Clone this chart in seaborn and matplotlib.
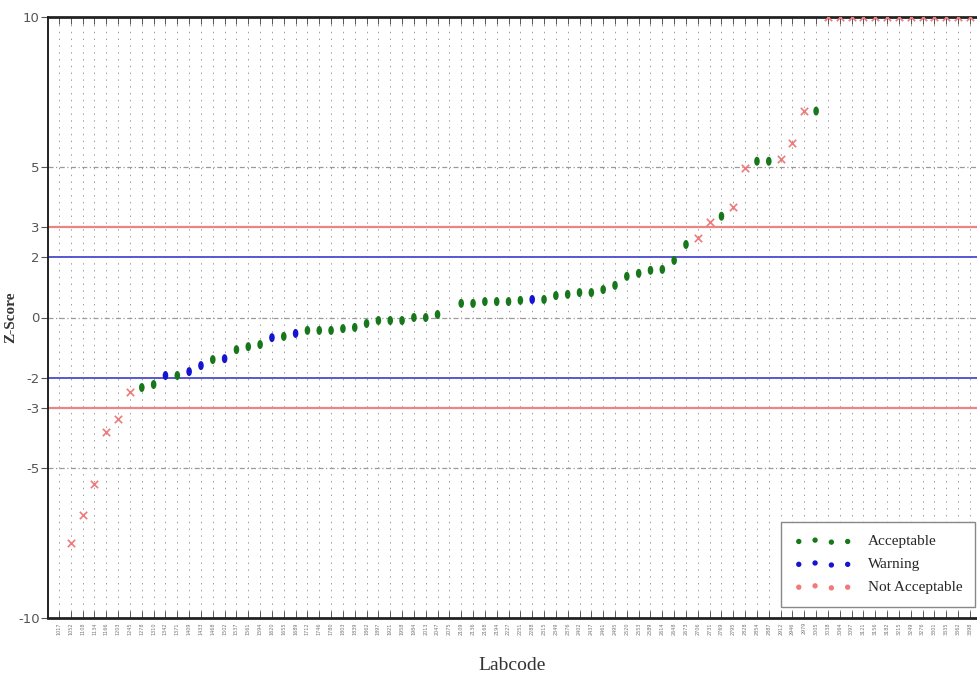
import numpy as np
import pandas as pd
import matplotlib
matplotlib.use("Agg")
import matplotlib.pyplot as plt
from matplotlib.path import Path
import seaborn as sns

# Lab codes along the x axis (sorted by z-score in the original chart)
labcodes = [
    "1017", "1052", "1108", "1134", "1166", "1203", "1245", "1278", "1310", "1342",
    "1371", "1409", "1433", "1468", "1502", "1537", "1561", "1594", "1620", "1655",
    "1689", "1712", "1746", "1780", "1803", "1839", "1862", "1897", "1921", "1958",
    "1984", "2013", "2047", "2075", "2109", "2136", "2168", "2194", "2227", "2251",
    "2288", "2315", "2349", "2376", "2402", "2437", "2461", "2495", "2520", "2553",
    "2589", "2614", "2648", "2673", "2706", "2731", "2769", "2795", "2828", "2854",
    "2887", "2912", "2946", "2979", "3005", "3038", "3064", "3097", "3121", "3156",
    "3182", "3215", "3249", "3276", "3301", "3335", "3362", "3398",
]

# z-scores (NaN = no result, 10 = off scale at the top limit)
zscores = [
    np.nan, -7.5, -6.57, -5.53, -3.8, -3.37, -2.47, -2.33, -2.23, -1.93,
    -1.93, -1.8, -1.6, -1.4, -1.37, -1.07, -0.97, -0.9, -0.67, -0.63,
    -0.53, -0.43, -0.43, -0.43, -0.37, -0.33, -0.2, -0.1, -0.1, -0.1,
    0.0, 0.0, 0.1, np.nan, 0.47, 0.47, 0.53, 0.53, 0.53, 0.57,
    0.6, 0.6, 0.73, 0.77, 0.83, 0.83, 0.93, 1.07, 1.37, 1.47,
    1.57, 1.6, 1.9, 2.43, 2.63, 3.17, 3.37, 3.67, 4.97, 5.2,
    5.2, 5.27, 5.8, 6.87, 6.87, 10, 10, 10, 10, 10,
    10, 10, 10, 10, 10, 10, 10, 10,
]

A, W, N = "Acceptable", "Warning", "Not Acceptable"
status = [
    None, N, N, N, N, N, N, A, A, W,
    A, W, W, A, W, A, A, A, W, A,
    W, A, A, A, A, A, A, A, A, A,
    A, A, A, None, A, A, A, A, A, A,
    W, A, A, A, A, A, A, A, A, A,
    A, A, A, A, N, N, A, N, N, A,
    A, N, N, N, A, N, N, N, N, N,
    N, N, N, N, N, N, N, N,
]

df = pd.DataFrame({"Labcode": labcodes, "Z": zscores, "Status": status})
df["pos"] = np.arange(len(df))
df = df.dropna(subset=["Z"])

sns.set_theme(style="white")
serif = ["Liberation Serif", "DejaVu Serif"]

fig = plt.figure(figsize=(9.77, 6.77), dpi=100)
ax = fig.add_axes([48 / 977, 59 / 677, 929 / 977, 601 / 677])

# vertical dotted grid at every lab
for i in range(len(labcodes)):
    ax.axvline(i, color="#9c9c9c", lw=0.7, ls=(0, (1.5, 5.5)), zorder=0)

# reference lines
for y in (0, 5, -5):
    ax.axhline(y, color="#9a9a9a", lw=0.9, ls=(0, (4, 2, 1, 2)), zorder=1)
for y in (3, -3):
    ax.axhline(y, color="#e98585", lw=1.6, zorder=1)
for y in (2, -2):
    ax.axhline(y, color="#4a4ad0", lw=1.3, zorder=1)

ellipse = Path(Path.unit_circle().vertices * [0.62, 1.0], Path.unit_circle().codes)
palette = {A: "#16781a", W: "#1414d2", N: "#f07a7a"}

ok = df[df["Status"] != N]
bad = df[df["Status"] == N]
sns.scatterplot(data=ok, x="pos", y="Z", hue="Status", hue_order=[A, W],
                palette=palette, marker=ellipse, s=42, linewidth=0,
                ax=ax, zorder=3, legend=False)
sns.scatterplot(data=bad, x="pos", y="Z", color=palette[N], marker="x",
                s=28, linewidth=1.2, ax=ax, zorder=3, legend=False)

ax.set_xlim(-0.93, 77.6)
ax.set_ylim(-10, 10)
ax.set_yticks([-10, -5, -3, -2, 0, 2, 3, 5, 10])
ax.set_yticklabels(["-10", "-5", "-3", "-2", "0", "2", "3", "5", "10"],
                   color="#555555", fontsize=9.5)
ax.set_xticks(range(len(labcodes)))
ax.set_xticklabels(labcodes, rotation=90, fontsize=3.5, color="#777777")
ax.tick_params(axis="x", direction="in", length=5, width=0.7, color="#555555",
               top=True, bottom=True, pad=3)
ax.tick_params(axis="y", direction="out", length=5, width=0.8, color="#555555",
               left=True, pad=1)

for side in ("left", "bottom", "top"):
    ax.spines[side].set_color("#222222")
ax.spines["left"].set_linewidth(1.4)
ax.spines["bottom"].set_linewidth(2.0)
ax.spines["top"].set_linewidth(2.0)
ax.spines["right"].set_visible(False)

ax.set_xlabel("Labcode", fontsize=14, family=serif, color="#333333", labelpad=16)
ax.set_ylabel("Z-Score", fontsize=11, family=serif, fontweight="bold", color="#333333")
ax.yaxis.set_label_coords(-0.033, 0.5)

# legend with four dots per entry
handles = []
for key in (A, W, N):
    h = ax.scatter([], [], marker="o", s=8, color=palette[key], label=key)
    handles.append(h)
leg = ax.legend(handles=handles, loc="lower right", bbox_to_anchor=(0.998, 0.018),
                borderaxespad=0, scatterpoints=4, fancybox=False, framealpha=1,
                edgecolor="#888888", prop={"family": serif, "size": 11},
                borderpad=0.85, labelspacing=0.6, handlelength=3.8, handletextpad=1.0)
leg.get_frame().set_linewidth(1.0)

plt.savefig("out.png", dpi=100)
